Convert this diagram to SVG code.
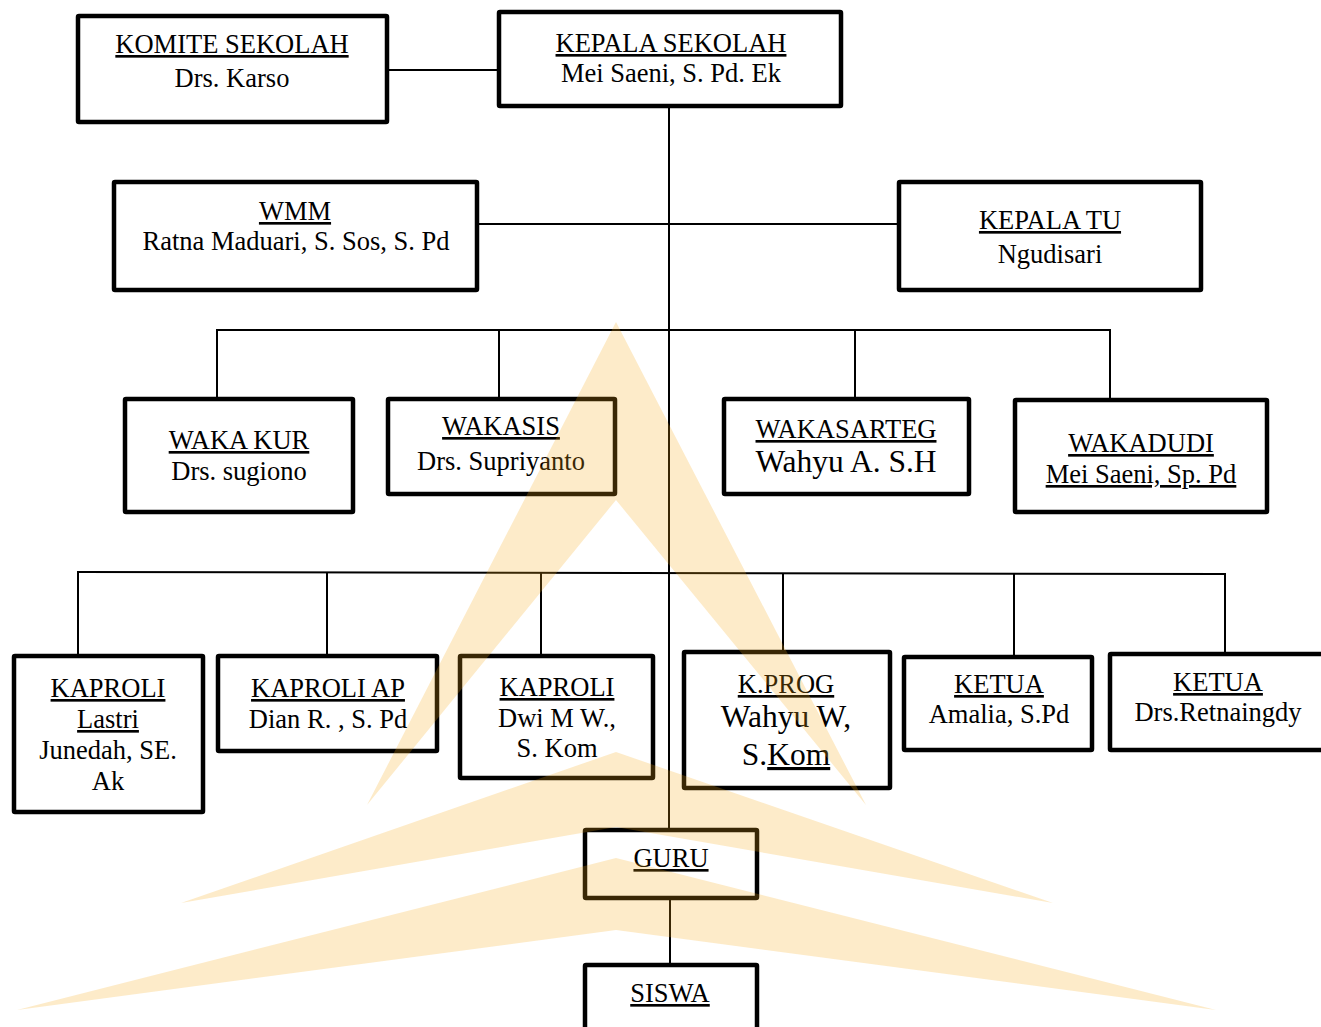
<svg xmlns="http://www.w3.org/2000/svg" width="1321" height="1027" viewBox="0 0 1321 1027">
<style>
.box{fill:#fff;stroke:#000;stroke-width:4.5}
.t{font-family:"Liberation Serif","Times New Roman",serif;font-size:26.5px;fill:#000;text-anchor:middle}
.u{text-decoration:underline}
.big{font-size:31.5px}
#connectors line{stroke:#000;stroke-width:2}
.wm{fill:#F6AA14;opacity:0.23}
</style>
<rect width="1321" height="1027" fill="#fff"/>
<g id="connectors">
<line x1="389" y1="70" x2="497" y2="70"/>
<line x1="669" y1="108" x2="669" y2="828"/>
<line x1="479" y1="224" x2="897" y2="224"/>
<line x1="216" y1="330" x2="1111" y2="330"/>
<line x1="217" y1="330" x2="217" y2="397"/>
<line x1="499" y1="330" x2="499" y2="397"/>
<line x1="855" y1="330" x2="855" y2="397"/>
<line x1="1110" y1="330" x2="1110" y2="398"/>
<line x1="77" y1="572" x2="1226" y2="574"/>
<line x1="78" y1="572" x2="78" y2="654"/>
<line x1="327" y1="572" x2="327" y2="654"/>
<line x1="541" y1="573" x2="541" y2="654"/>
<line x1="783" y1="573" x2="783" y2="650"/>
<line x1="1014" y1="574" x2="1014" y2="655"/>
<line x1="1225" y1="574" x2="1225" y2="652"/>
<line x1="670" y1="900" x2="670" y2="963"/>
</g>
<g id="komite"><rect class="box" x="78" y="16" width="309" height="106" rx="1"/><text class="t u" x="232" y="53">KOMITE SEKOLAH</text><text class="t" x="232" y="87">Drs. Karso</text></g>
<g id="kepala"><rect class="box" x="499" y="12" width="342" height="94" rx="1"/><text class="t u" x="671" y="52">KEPALA SEKOLAH</text><text class="t" x="671" y="82">Mei Saeni, S. Pd. Ek</text></g>
<g id="wmm"><rect class="box" x="114" y="182" width="363" height="108" rx="1"/><text class="t u" x="295" y="220">WMM</text><text class="t" x="296" y="250">Ratna Maduari, S. Sos, S. Pd</text></g>
<g id="kepalatu"><rect class="box" x="899" y="182" width="302" height="108" rx="1"/><text class="t u" x="1050" y="229">KEPALA TU</text><text class="t" x="1050" y="263">Ngudisari</text></g>
<g id="wakakur"><rect class="box" x="125" y="399" width="228" height="113" rx="1"/><text class="t u" x="239" y="449">WAKA KUR</text><text class="t" x="239" y="480">Drs. sugiono</text></g>
<g id="wakasis"><rect class="box" x="388" y="399" width="227" height="95" rx="1"/><text class="t u" x="501" y="435">WAKASIS</text><text class="t" x="501" y="470">Drs. Supriyanto</text></g>
<g id="wakasarteg"><rect class="box" x="724" y="399" width="245" height="95" rx="1"/><text class="t u" x="846" y="438">WAKASARTEG</text><text class="t big" x="846" y="472">Wahyu A. S.H</text></g>
<g id="wakadudi"><rect class="box" x="1015" y="400" width="252" height="112" rx="1"/><text class="t u" x="1141" y="452">WAKADUDI</text><text class="t u" x="1141" y="483">Mei Saeni, Sp. Pd</text></g>
<g id="kaproli1"><rect class="box" x="14" y="656" width="189" height="156" rx="1"/><text class="t u" x="108" y="697">KAPROLI</text><text class="t u" x="108" y="728">Lastri</text><text class="t" x="108" y="759">Junedah, SE.</text><text class="t" x="108" y="790">Ak</text></g>
<g id="kaproliap"><rect class="box" x="218" y="656" width="219" height="95" rx="1"/><text class="t u" x="328" y="697">KAPROLI AP</text><text class="t" x="328" y="728">Dian R. , S. Pd</text></g>
<g id="kaproli3"><rect class="box" x="460" y="656" width="193" height="122" rx="1"/><text class="t u" x="557" y="696">KAPROLI</text><text class="t" x="557" y="727">Dwi M W.,</text><text class="t" x="557" y="757">S. Kom</text></g>
<g id="kprog"><rect class="box" x="684" y="652" width="206" height="136" rx="1"/><text class="t u" x="786" y="693">K.PROG</text><text class="t big" x="786" y="727">Wahyu W,</text><text class="t big" x="786" y="765">S.<tspan class="u">Kom</tspan></text></g>
<g id="ketua1"><rect class="box" x="904" y="657" width="188" height="93" rx="1"/><text class="t u" x="999" y="693">KETUA</text><text class="t" x="999" y="723">Amalia, S.Pd</text></g>
<g id="ketua2"><rect class="box" x="1110" y="654" width="220" height="96" rx="1"/><text class="t u" x="1218" y="691">KETUA</text><text class="t" x="1218" y="721">Drs.Retnaingdy</text></g>
<g id="guru"><rect class="box" x="585" y="830" width="172" height="68" rx="1"/><text class="t u" x="671" y="867">GURU</text></g>
<g id="siswa"><rect class="box" x="585" y="965" width="172" height="80" rx="1"/><text class="t u" x="670" y="1002">SISWA</text></g>
<g id="watermark">
<polygon class="wm" points="616,322 866,805 616,500 367,805"/>
<polygon class="wm" points="616,752 1053,903 616,827 181,903"/>
<polygon class="wm" points="616,858 1216,1010 616,930 17,1010"/>
</g>
</svg>
